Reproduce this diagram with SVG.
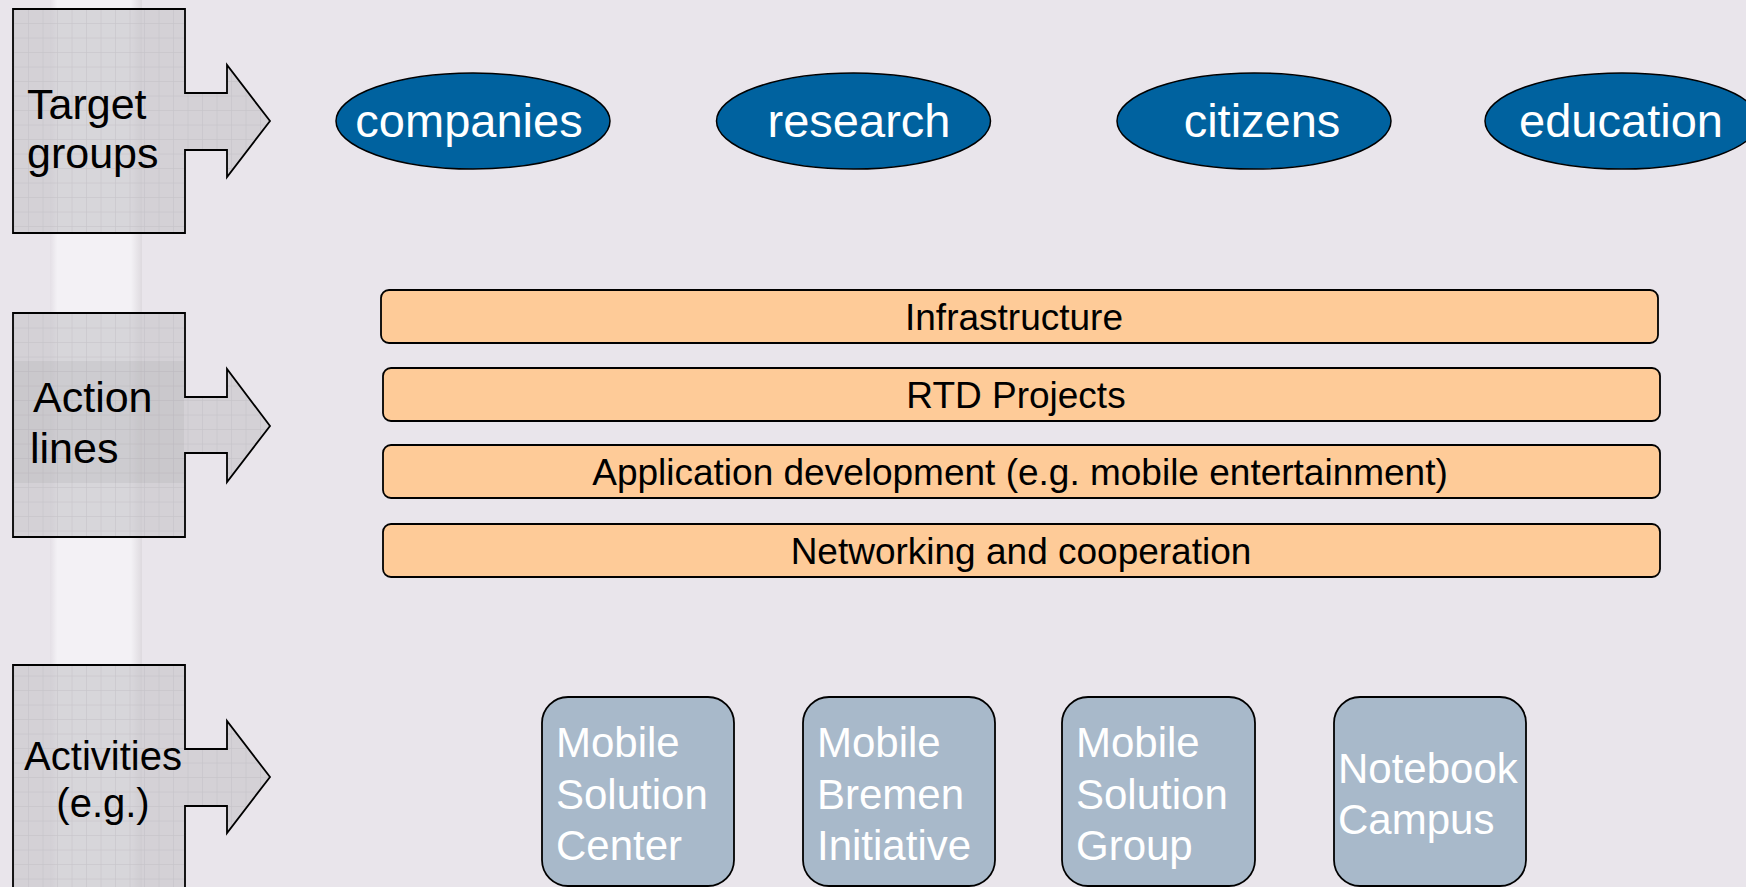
<svg xmlns="http://www.w3.org/2000/svg" width="1746" height="887" viewBox="0 0 1746 887">
<style>
text{font-family:"Liberation Sans",Arial,sans-serif;}
.lbl{font-size:43px;fill:#000;}
.lbs{font-size:40px;fill:#000;}
.tg{fill:#00629F;stroke:#000;stroke-width:1.5;}
.tgt{font-size:47px;fill:#fff;text-anchor:middle;}
.bar{fill:#FECB98;stroke:#000;stroke-width:1.8;}
.bart{font-size:37px;fill:#000;text-anchor:middle;}
.act{fill:#A8B9CA;stroke:#000;stroke-width:1.8;}
.actt{font-size:42px;fill:#fff;}
.arr{fill:url(#grid);stroke:#000;stroke-width:1.8;}
</style>
<defs>
<linearGradient id="strip" x1="0" x2="1" y1="0" y2="0">
<stop offset="0" stop-color="#E4E0E6"/>
<stop offset="0.08" stop-color="#F3F1F5"/>
<stop offset="0.88" stop-color="#F3F1F5"/>
<stop offset="1" stop-color="#DEDADF"/>
</linearGradient>
<pattern id="grid" patternUnits="userSpaceOnUse" x="0" y="9.5" width="14.5" height="14.5">
<rect width="14.5" height="14.5" fill="#C6C5CA" fill-opacity="0.62"/>
<path d="M14.5,0V14.5M0,14.5H14.5" stroke="#BDBBC0" stroke-width="1" fill="none" stroke-opacity="0.75"/>
</pattern>
</defs>
<rect width="1746" height="887" fill="#E9E5EB"/>
<rect x="50" y="0" width="92" height="887" fill="url(#strip)"/>

<g id="target-groups">
<path class="arr" d="M13,9H185V93H227V65L270,121L227,177V150H185V233H13Z"/>
<text class="lbl" x="27" y="119">Target</text>
<text class="lbl" x="27" y="168">groups</text>
</g>
<g id="action-lines">
<path class="arr" d="M13,313H185V397H227V369L270,426L227,482V453H185V537H13Z"/>
<rect x="14" y="361" width="170" height="122" fill="#000" fill-opacity="0.045"/>
<text class="lbl" x="33" y="412">Action</text>
<text class="lbl" x="30" y="463">lines</text>
</g>
<g id="activities">
<path class="arr" d="M13,665H185V749H227V721L270,777L227,833V806H185V895H13Z"/>
<text class="lbs" x="103" y="770" text-anchor="middle">Activities</text>
<text class="lbs" x="103" y="817" text-anchor="middle">(e.g.)</text>
</g>

<g id="companies"><ellipse class="tg" cx="473" cy="121" rx="137" ry="48"/><text class="tgt" x="469" y="137">companies</text></g>
<g id="research"><ellipse class="tg" cx="853.5" cy="121" rx="137" ry="48"/><text class="tgt" x="859" y="137">research</text></g>
<g id="citizens"><ellipse class="tg" cx="1254" cy="121" rx="137" ry="48"/><text class="tgt" x="1262" y="137">citizens</text></g>
<g id="education"><ellipse class="tg" cx="1622" cy="121" rx="137" ry="48"/><text class="tgt" x="1621" y="137">education</text></g>

<g id="infrastructure"><rect class="bar" x="381" y="290" width="1277" height="53" rx="8"/><text class="bart" x="1014" y="330">Infrastructure</text></g>
<g id="rtd-projects"><rect class="bar" x="383" y="368" width="1277" height="53" rx="8"/><text class="bart" x="1016" y="408">RTD Projects</text></g>
<g id="application-development"><rect class="bar" x="383" y="445" width="1277" height="53" rx="8"/><text class="bart" x="1020" y="485">Application development (e.g. mobile entertainment)</text></g>
<g id="networking"><rect class="bar" x="383" y="524" width="1277" height="53" rx="8"/><text class="bart" x="1021" y="564">Networking and cooperation</text></g>

<g id="mobile-solution-center"><rect class="act" x="542" y="697" width="192" height="189" rx="26"/>
<text class="actt" x="556" y="757">Mobile</text><text class="actt" x="556" y="809">Solution</text><text class="actt" x="556" y="860">Center</text></g>
<g id="mobile-bremen-initiative"><rect class="act" x="803" y="697" width="192" height="189" rx="26"/>
<text class="actt" x="817" y="757">Mobile</text><text class="actt" x="817" y="809">Bremen</text><text class="actt" x="817" y="860">Initiative</text></g>
<g id="mobile-solution-group"><rect class="act" x="1062" y="697" width="193" height="189" rx="26"/>
<text class="actt" x="1076" y="757">Mobile</text><text class="actt" x="1076" y="809">Solution</text><text class="actt" x="1076" y="860">Group</text></g>
<g id="notebook-campus"><rect class="act" x="1334" y="697" width="192" height="189" rx="26"/>
<text class="actt" x="1338" y="783">Notebook</text><text class="actt" x="1338" y="834">Campus</text></g>
<g id="connectors"></g>
</svg>
